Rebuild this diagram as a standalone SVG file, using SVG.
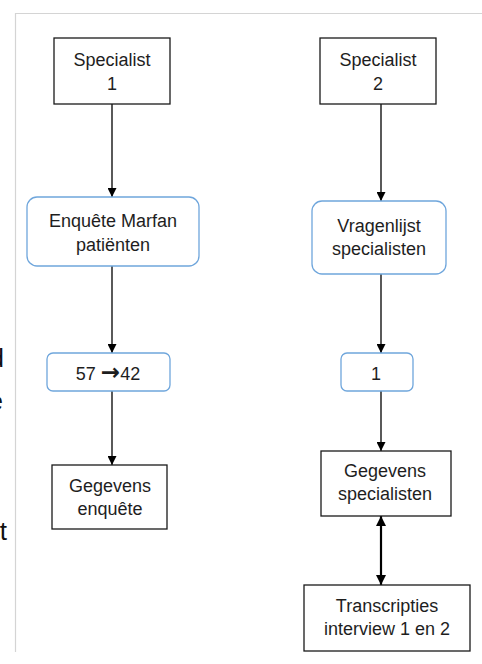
<svg xmlns="http://www.w3.org/2000/svg" width="482" height="664" viewBox="0 0 482 664">
  <defs>
    <style>
      .box { fill: #ffffff; stroke: #1a1a1a; stroke-width: 1.3; }
      .rbox { fill: #ffffff; stroke: #6fa6dc; stroke-width: 1.3; }
      .lbl { font-family: "Liberation Sans", Arial, sans-serif; font-size: 18px; fill: #1e1e1e; text-anchor: middle; }
      .sym { font-family: "DejaVu Sans", sans-serif; font-weight: bold; font-size: 23px; }
      .edge { stroke: #000000; stroke-width: 1.3; fill: none; }
      .edge2 { stroke: #000000; stroke-width: 2.2; fill: none; }
      .frame { stroke: #d4d4d4; stroke-width: 1.2; fill: none; }
      .cut { font-family: "Liberation Sans", Arial, sans-serif; font-size: 26px; fill: #111111; text-anchor: end; }
    </style>
    <marker id="ah" viewBox="0 0 10 10" refX="10" refY="5" markerWidth="9" markerHeight="9" markerUnits="userSpaceOnUse" orient="auto">
      <path d="M0,0 L10,5 L0,10 Z" fill="#000000"/>
    </marker>
    <marker id="ah2" viewBox="0 0 10 10" refX="10" refY="5" markerWidth="10" markerHeight="10" markerUnits="userSpaceOnUse" orient="auto-start-reverse">
      <path d="M0,0 L10,5 L0,10 Z" fill="#000000"/>
    </marker>
  </defs>

  <rect width="482" height="664" fill="#ffffff"/>

  <!-- page frame and cut-off body text -->
  <g id="frame">
    <path class="frame" d="M15.5,652 L15.5,13.5 L482,13.5"/>
    <text class="cut" x="4" y="367">d</text>
    <text class="cut" x="3" y="410">e</text>
    <text class="cut" x="7" y="540">t</text>
  </g>

  <g id="connectors">
    <line class="edge" x1="112" y1="104" x2="112" y2="197" marker-end="url(#ah)"/>
    <line class="edge" x1="381" y1="104" x2="381" y2="201" marker-end="url(#ah)"/>
    <line class="edge" x1="112" y1="266" x2="112" y2="353" marker-end="url(#ah)"/>
    <line class="edge" x1="381" y1="274" x2="381" y2="353" marker-end="url(#ah)"/>
    <line class="edge" x1="112" y1="391" x2="112" y2="465" marker-end="url(#ah)"/>
    <line class="edge" x1="381" y1="391" x2="381" y2="451" marker-end="url(#ah)"/>
    <line class="edge2" x1="381" y1="516" x2="381" y2="585" marker-start="url(#ah2)" marker-end="url(#ah2)"/>
  </g>

  <g id="specialist1">
    <rect class="box" x="54" y="38" width="116" height="66"/>
    <text class="lbl" x="112" y="66">Specialist</text>
    <text class="lbl" x="112" y="90">1</text>
  </g>

  <g id="specialist2">
    <rect class="box" x="320" y="38" width="116" height="66"/>
    <text class="lbl" x="378" y="66">Specialist</text>
    <text class="lbl" x="378" y="90">2</text>
  </g>

  <g id="enquete">
    <rect class="rbox" x="27" y="197" width="172" height="69" rx="10" ry="10"/>
    <text class="lbl" x="113" y="227">Enquête Marfan</text>
    <text class="lbl" x="113" y="251">patiënten</text>
  </g>

  <g id="vragenlijst">
    <rect class="rbox" x="312" y="201" width="134" height="73" rx="10" ry="10"/>
    <text class="lbl" x="379" y="232">Vragenlijst</text>
    <text class="lbl" x="379" y="255">specialisten</text>
  </g>

  <g id="count1">
    <rect class="rbox" x="47" y="353" width="123" height="38" rx="6" ry="6"/>
    <text class="lbl" x="108" y="380">57 <tspan class="sym">→</tspan>42</text>
  </g>

  <g id="count2">
    <rect class="rbox" x="341" y="353" width="72" height="38" rx="6" ry="6"/>
    <text class="lbl" x="376" y="380">1</text>
  </g>

  <g id="gegevens-enquete">
    <rect class="box" x="52" y="465" width="115" height="64"/>
    <text class="lbl" x="110" y="492">Gegevens</text>
    <text class="lbl" x="110" y="515">enquête</text>
  </g>

  <g id="gegevens-specialisten">
    <rect class="box" x="321" y="451" width="130" height="65"/>
    <text class="lbl" x="385" y="477">Gegevens</text>
    <text class="lbl" x="385" y="500">specialisten</text>
  </g>

  <g id="transcripties">
    <rect class="box" x="304" y="585" width="166" height="66"/>
    <text class="lbl" x="387" y="612">Transcripties</text>
    <text class="lbl" x="387" y="635">interview 1 en 2</text>
  </g>
</svg>
